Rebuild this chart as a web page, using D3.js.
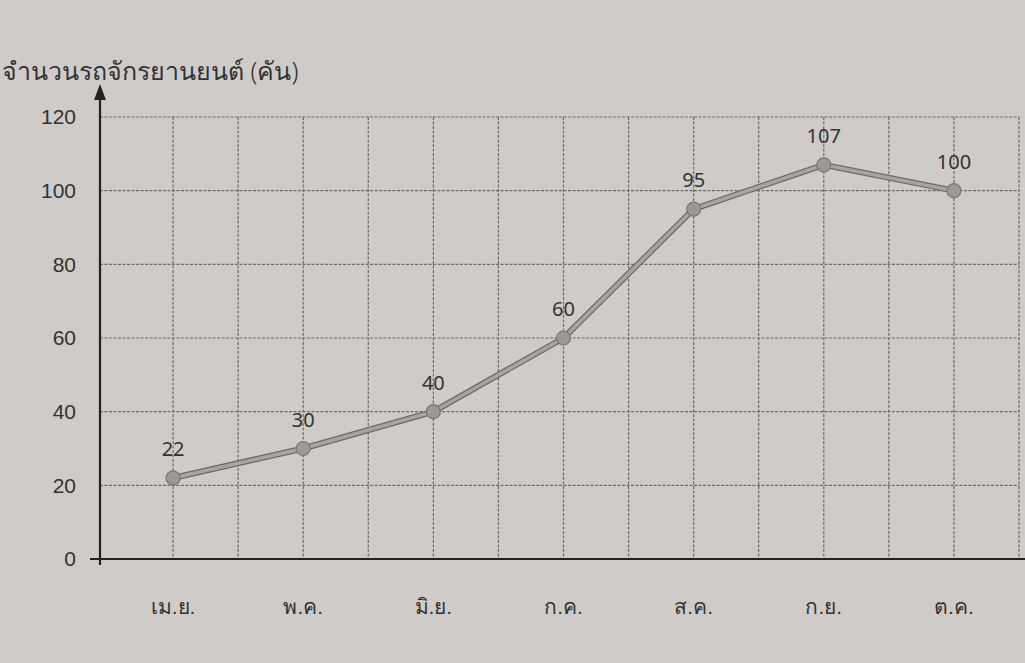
<!DOCTYPE html>
<html>
<head>
<meta charset="utf-8">
<script src="https://cdn.jsdelivr.net/npm/d3@7.9.0/dist/d3.min.js"></script>
<style>
  html, body { margin: 0; padding: 0; background: #cfcbc8; }
  svg { display: block; font-family: "Noto Sans", "Open Sans", sans-serif; }
</style>
</head>
<body>
<div id="chart"></div>
<script>
// chart data
const months = ['เม.ย.', 'พ.ค.', 'มิ.ย.', 'ก.ค.', 'ส.ค.', 'ก.ย.', 'ต.ค.'];
const bikes = [22, 30, 40, 60, 95, 107, 100];
const yTicks = [0, 20, 40, 60, 80, 100, 120];
const yTitle = 'จำนวนรถจักรยานยนต์ (คัน)';

const width = 1025;
const height = 663;
const margin = { top: 117, right: 6, bottom: 104, left: 100 };

const svg = d3.select('#chart')
  .append('svg')
  .attr('width', width)
  .attr('height', height);

const x = d3.scaleBand()
  .domain(months)
  .range([margin.left + 8, width - margin.right]);

const y = d3.scaleLinear()
  .domain([0, 120])
  .range([height - margin.bottom, margin.top]);

const grid = svg.append('g')
  .attr('stroke', '#555')
  .attr('stroke-width', 1.2)
  .attr('stroke-dasharray', '3,1.5')
  .attr('opacity', 0.8);

// horizontal grid lines
grid.selectAll('line.h')
  .data(yTicks.filter(d => d > 0))
  .join('line')
  .attr('class', 'h')
  .attr('x1', margin.left)
  .attr('x2', width - margin.right)
  .attr('y1', d => y(d))
  .attr('y2', d => y(d));

// vertical lines at month centres and band edges
const vx = [];
months.forEach(m => {
  vx.push(x(m) + x.bandwidth() / 2);
  vx.push(x(m) + x.bandwidth());
});
grid.selectAll('line.v')
  .data(vx)
  .join('line')
  .attr('class', 'v')
  .attr('x1', d => d)
  .attr('x2', d => d)
  .attr('y1', y(120))
  .attr('y2', y(0));

// y axis
const yAxis = d3.axisLeft(y).tickValues(yTicks).tickSize(0).tickPadding(24);
const yg = svg.append('g')
  .attr('transform', `translate(${margin.left},0)`)
  .call(yAxis);
yg.select('.domain').remove();
yg.selectAll('text')
  .attr('font-size', 21)
  .attr('fill', '#333');

svg.append('line')
  .attr('x1', margin.left).attr('x2', margin.left)
  .attr('y1', y(0) + 6).attr('y2', 96)
  .attr('stroke', '#222').attr('stroke-width', 2.2);
svg.append('path')
  .attr('d', `M${margin.left - 6},${100} L${margin.left},${84} L${margin.left + 6},${100} Z`)
  .attr('fill', '#222');

// x axis
svg.append('line')
  .attr('x1', margin.left - 10).attr('x2', width)
  .attr('y1', y(0)).attr('y2', y(0))
  .attr('stroke', '#222').attr('stroke-width', 2.2);

const xAxis = d3.axisBottom(x).tickSize(0).tickPadding(40);
const xg = svg.append('g')
  .attr('transform', `translate(0,${y(0)})`)
  .call(xAxis);
xg.select('.domain').remove();
xg.selectAll('text')
  .attr('font-size', 21)
  .attr('fill', '#333');

// title
svg.append('text')
  .attr('x', 2)
  .attr('y', 80)
  .attr('font-size', 25)
  .attr('font-weight', 300)
  .attr('fill', '#333')
  .text(yTitle);

// line
const cx = (d, i) => x(months[i]) + x.bandwidth() / 2;
const line = d3.line()
  .x(cx)
  .y(d => y(d));

svg.append('path')
  .datum(bikes)
  .attr('d', line)
  .attr('fill', 'none')
  .attr('stroke', '#6e6a68')
  .attr('stroke-width', 6);
svg.append('path')
  .datum(bikes)
  .attr('d', line)
  .attr('fill', 'none')
  .attr('stroke', '#a8a4a2')
  .attr('stroke-width', 3.5);

svg.append('g')
  .selectAll('circle')
  .data(bikes)
  .join('circle')
  .attr('cx', cx)
  .attr('cy', d => y(d))
  .attr('r', 7)
  .attr('fill', '#9c9896')
  .attr('stroke', '#7a7674')
  .attr('stroke-width', 1.2);

svg.append('g')
  .selectAll('text')
  .data(bikes)
  .join('text')
  .attr('x', cx)
  .attr('y', d => y(d) - 22)
  .attr('text-anchor', 'middle')
  .attr('font-size', 20)
  .attr('fill', '#333')
  .text(d => d);
</script>
</body>
</html>
